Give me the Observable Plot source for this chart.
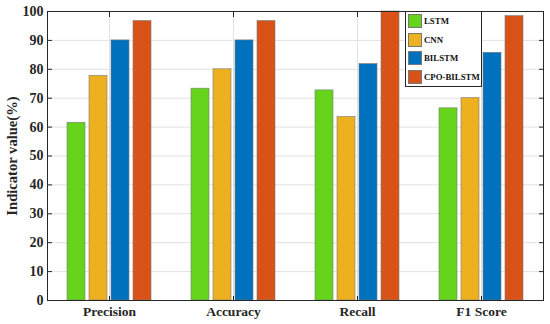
<!DOCTYPE html>
<html>
<head>
<meta charset="utf-8">
<script src="https://cdn.jsdelivr.net/npm/d3@7"></script>
<script src="https://cdn.jsdelivr.net/npm/@observablehq/plot@0.6"></script>
<style>
  html, body { margin: 0; padding: 0; background: white; }
  #wrap { position: relative; width: 550px; height: 324px; }
  #legend { position: absolute; left: 405px; top: 11px; width: 77px; height: 76px;
    border: 1px solid #262626; background: white; box-sizing: border-box;
    font-family: "Liberation Serif", serif; font-weight: bold; font-size: 8.8px; color: #111; }
  .item { position: absolute; left: 2px; display: flex; align-items: center; height: 14px; white-space: nowrap; }
  .sw { width: 14px; height: 14px; box-sizing: border-box; border: 0.6px solid #777; margin-right: 2px; flex: none; }
</style>
</head>
<body>
<div id="wrap"><div id="legend"></div></div>
<script>
const categories = ["Precision", "Accuracy", "Recall", "F1 Score"];
const models = ["LSTM", "CNN", "BILSTM", "CPO-BILSTM"];
const lstm = [61.5, 73.3, 72.7, 66.5];
const cnn = [77.7, 80.0, 63.5, 70.0];
const bilstm = [90.0, 90.0, 81.8, 85.7];
const cpoBilstm = [96.7, 96.7, 100.0, 98.4];
const yTicks = [0, 10, 20, 30, 40, 50, 60, 70, 80, 90, 100];
const colors = ["#66d41a", "#edb120", "#0072bd", "#d95319"];

const series = [lstm, cnn, bilstm, cpoBilstm];
const data = [];
categories.forEach((c, i) => models.forEach((m, j) => data.push({category: c, model: m, value: series[j][i]})));

const font = "Liberation Serif, Times New Roman, serif";
const chart = Plot.plot({
  width: 550, height: 324,
  marginLeft: 47, marginRight: 7, marginTop: 11, marginBottom: 24,
  style: {fontFamily: font, fontWeight: "bold", fontSize: "14px", color: "#262626", background: "white"},
  fx: {domain: categories, padding: 0, label: null},
  x: {domain: models, paddingInner: 0.2, paddingOuter: 0.84, axis: null},
  y: {domain: [0, 100], label: null},
  color: {domain: models, range: colors},
  marks: [
    Plot.gridY({ticks: yTicks, stroke: "#e2e2e2", strokeOpacity: 1}),
    Plot.gridFx({stroke: "#e2e2e2", strokeOpacity: 1}),
    Plot.barY(data, {fx: "category", x: "model", y: "value", fill: "model", stroke: "#7a7a7a", strokeWidth: 0.6}),
    Plot.axisY({ticks: yTicks, tickSize: -5, tickPadding: 9, stroke: "#262626", fontSize: 14,
      label: "Indicator value(%)", labelAnchor: "center", labelArrow: "none", labelOffset: 41}),
    Plot.axisY({anchor: "right", ticks: yTicks, tickSize: -5, tickFormat: () => "", label: null, stroke: "#262626"}),
    Plot.axisFx({anchor: "bottom", tickSize: -4, tickPadding: 10, fontSize: 13.5, label: null, stroke: "#262626"}),
    Plot.axisFx({anchor: "top", tickSize: -5, tickFormat: () => "", label: null, stroke: "#262626"}),
    Plot.frame({facet: "super", stroke: "#262626"})
  ]
});
const wrap = document.getElementById("wrap");
wrap.insertBefore(chart, wrap.firstChild);
chart.querySelectorAll("text").forEach(t => { if (t.textContent === "Indicator value(%)") t.setAttribute("font-size", "14.6"); });

const legend = document.getElementById("legend");
models.forEach((m, j) => {
  const it = document.createElement("div");
  it.className = "item";
  it.style.top = (2 + j * 18.7) + "px";
  const sw = document.createElement("div");
  sw.className = "sw";
  sw.style.background = colors[j];
  it.appendChild(sw);
  const tx = document.createElement("span");
  tx.textContent = m;
  it.appendChild(tx);
  legend.appendChild(it);
});
</script>
</body>
</html>
